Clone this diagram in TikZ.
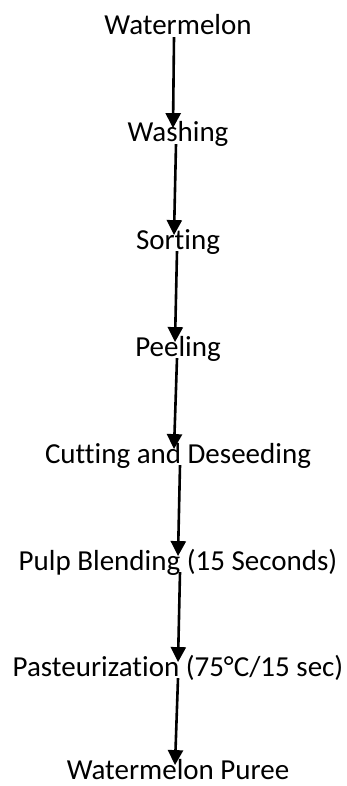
\documentclass[tikz,border=0pt]{standalone}
\usepackage{fontspec}
\setmainfont{Carlito}[RawFeature={-liga;-clig}]
\usetikzlibrary{arrows.meta}

\begin{document}
\begin{tikzpicture}[x=1pt,y=-1pt,
  stage/.style={anchor=base,inner sep=0pt,text height=18.7pt,text depth=0pt,
                font=\fontsize{29}{34}\selectfont},
  flow/.style={line width=2.6pt,-{Triangle[width=15pt,length=15pt]}}]
  % page frame
  \useasboundingbox (0,0) rectangle (347,786);

  % process stages, baselines about 107pt apart
  \node[stage] (s1) at (178,35)  {Watermelon};
  \node[stage] (s2) at (178,142) {Washing};
  \node[stage] (s3) at (178,249) {Sorting};
  \node[stage] (s4) at (178,356) {Peeling};
  \node[stage] (s5) at (178,463) {Cutting and Deseeding};
  \node[stage] (s6) at (178,570) {Pulp Blending (15 Seconds)};
  \node[stage] (s7) at (178,676) {Pasteurization (75°C/15 sec)};
  \node[stage] (s8) at (178,779) {Watermelon Puree};

  % connectors between consecutive stages
  \draw[flow] ([xshift=-4pt,yshift=-2pt]s1.south) -- ([xshift=-5pt,yshift=-5pt]s2.north);
  \draw[flow] ([xshift=-2pt,yshift=-2pt]s2.south) -- ([xshift=-4pt,yshift=-5pt]s3.north);
  \draw[flow] ([xshift=-1pt,yshift=-2pt]s3.south) -- ([xshift=-3pt,yshift=-5pt]s4.north);
  \draw[flow] ([xshift=-1pt,yshift=-2pt]s4.south) -- ([xshift=-4pt,yshift=-5pt]s5.north);
  \draw[flow] ([xshift=2pt,yshift=-2pt]s5.south)  -- ([xshift=0pt,yshift=-5pt]s6.north);
  \draw[flow] ([xshift=2pt,yshift=-2pt]s6.south)  -- ([xshift=0pt,yshift=-5pt]s7.north);
  \draw[flow] ([xshift=0pt,yshift=-2pt]s7.south)  -- ([xshift=-3pt,yshift=-5pt]s8.north);
\end{tikzpicture}
\end{document}
